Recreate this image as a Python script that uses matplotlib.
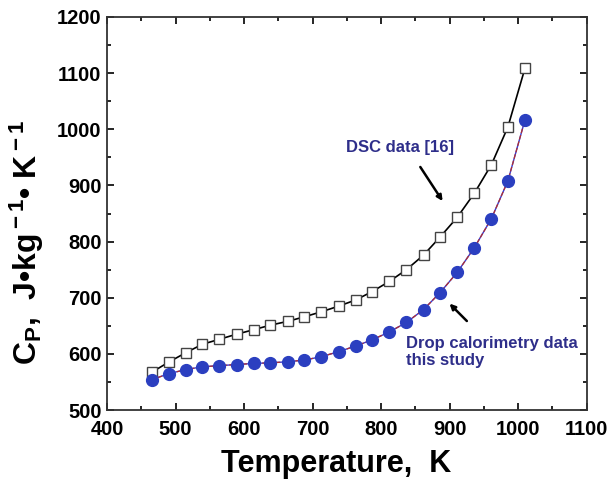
import matplotlib
matplotlib.use("Agg")
from matplotlib import pyplot as plt
from matplotlib.ticker import MultipleLocator

plt.rcParams['font.family'] = 'Liberation Sans'
plt.rcParams['font.weight'] = 'bold'
plt.rcParams['mathtext.fontset'] = 'custom'
plt.rcParams['mathtext.rm'] = 'Liberation Sans:bold'
plt.rcParams['mathtext.bf'] = 'Liberation Sans:bold'
plt.rcParams['mathtext.it'] = 'Liberation Sans:bold'

temps = [465, 491, 515, 539, 564, 589, 614, 638, 664, 688, 713, 738,
         763, 787, 812, 837, 862, 886, 911, 936, 961, 985, 1010]
cp_dsc = [567, 586, 602, 617, 626, 635, 643, 651, 658, 666, 675, 685,
          696, 711, 729, 750, 776, 808, 843, 886, 937, 1004, 1109]
cp_drop = [554, 565, 572, 577, 579, 581, 583, 584, 586, 589, 595, 604,
           614, 625, 639, 656, 679, 709, 745, 789, 841, 908, 1017]

navy = '#2e2e8a'

fig = plt.figure(figsize=(6.11, 4.8), dpi=100)
ax = fig.add_axes([0.1751, 0.1458, 0.7851, 0.8188])

ax.plot(temps, cp_dsc, color='black', lw=1.2, marker='s', markersize=7.5,
        markerfacecolor='white', markeredgecolor='#444444', markeredgewidth=1.0)
ax.plot(temps, cp_drop, color='#3a3ad0', lw=1.0, zorder=2)
ax.plot(temps, cp_drop, color='#b03030', lw=0.9, ls='--', zorder=3)
ax.plot(temps, cp_drop, ls='none', marker='o', markersize=8.5,
        markerfacecolor='#2b3fc0', markeredgecolor='#2b3fc0', zorder=4)

ax.set_xlim(400, 1100)
ax.set_ylim(500, 1200)
ax.xaxis.set_major_locator(MultipleLocator(100))
ax.xaxis.set_minor_locator(MultipleLocator(50))
ax.yaxis.set_major_locator(MultipleLocator(100))
ax.yaxis.set_minor_locator(MultipleLocator(50))
ax.tick_params(which='both', direction='in', top=True, right=True, width=1.2)
ax.tick_params(which='major', length=5, labelsize=14.5, pad=4)
ax.tick_params(axis='x', which='major', pad=7)
ax.tick_params(which='minor', length=3)
for sp in ax.spines.values():
    sp.set_linewidth(1.3)
    sp.set_color('#333333')

ax.set_xlabel('Temperature,  K', fontsize=22, fontweight='bold')
ax.xaxis.set_label_coords(0.477, -0.1)
ax.set_ylabel('C$_{\\rm P}$,  J\u2022kg$^{\\rm -1}$\u2022 K$^{\\rm -1}$',
              fontsize=23, fontweight='bold')
ax.yaxis.set_label_coords(-0.128, 0.426)

ax.text(828, 967, 'DSC data [16]', fontsize=12, fontweight='bold', color=navy,
        va='center', ha='center')
ax.annotate('', xy=(892, 868), xytext=(855, 937),
            arrowprops=dict(arrowstyle='-|>', color='black', lw=1.8, mutation_scale=8))
ax.annotate('', xy=(897, 693), xytext=(928, 655),
            arrowprops=dict(arrowstyle='-|>', color='black', lw=1.8, mutation_scale=8))
ax.text(837, 632, 'Drop calorimetry data\nthis study', fontsize=12,
        fontweight='bold', color=navy, va='top', ha='left', linespacing=1.15)

fig.savefig('out.png', dpi=100)
